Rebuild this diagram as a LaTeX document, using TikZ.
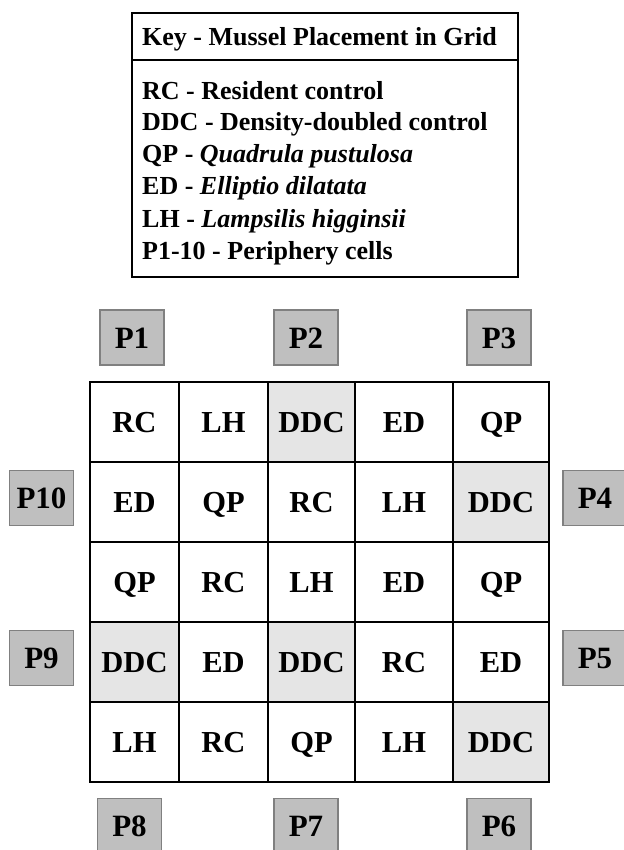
\documentclass[tikz,border=0pt]{standalone}
\usepackage{fontspec}
\setmainfont{Liberation Serif}
\begin{document}
\begin{tikzpicture}[x=1pt,y=-1pt,
  cell/.style={draw=black,line width=2pt,anchor=north west,inner sep=0pt,
    text height=20pt,text depth=0pt,
    font=\fontsize{30.5}{34}\selectfont\bfseries},
  ddc/.style={cell,fill=black!10},
  pbox/.style={draw=black!50,line width=1.3pt,fill=black!25,minimum width=64pt,
    minimum height=55pt,inner sep=0pt,text height=21pt,text depth=0pt,
    font=\fontsize{31}{34}\selectfont\bfseries},
  keytxt/.style={anchor=base west,inner sep=0pt,font=\fontsize{26}{30}\selectfont\bfseries}
]
\useasboundingbox (0,0) rectangle (623,850);
% key
\node[draw=black,line width=2pt,anchor=north west,minimum width=386pt,minimum height=264pt,inner sep=0pt] (key) at (131,12) {};
\coordinate (hl) at (131,60);
\coordinate (hr) at (517,60);
\draw[line width=2pt] (hl) -- (hr);
\node[keytxt] (k0) at (142,46) {Key - Mussel Placement in Grid};
\node[keytxt] (k1) at (142,100) {RC - Resident control};
\node[keytxt] (k2) at (142,131) {DDC - Density-doubled control};
\node[keytxt] (k3) at (142,163) {QP - \textit{Quadrula pustulosa}};
\node[keytxt] (k4) at (142,195) {ED - \textit{Elliptio dilatata}};
\node[keytxt] (k5) at (142,227) {LH - \textit{Lampsilis higginsii}};
\node[keytxt] (k6) at (142,259) {P1-10 - Periphery cells};
% grid
\def\cx{{89,178,267,354,452,548}}
\foreach \r/\row in {0/{RC,LH,DDC,ED,QP},1/{ED,QP,RC,LH,DDC},2/{QP,RC,LH,ED,QP},3/{DDC,ED,DDC,RC,ED},4/{LH,RC,QP,LH,DDC}}{
  \foreach \t [count=\c from 0] in \row {
    \pgfmathsetmacro{\xa}{\cx[\c]}
    \pgfmathsetmacro{\xb}{\cx[\c+1]}
    \pgfmathsetmacro{\w}{\xb-\xa}
    \pgfmathsetmacro{\ya}{381+80*\r}
    \def\tmp{DDC}
    \ifx\t\tmp
      \node[ddc,minimum width=\w pt,minimum height=80pt] (g\r\c) at (\xa,\ya) {\t};
    \else
      \node[cell,minimum width=\w pt,minimum height=80pt] (g\r\c) at (\xa,\ya) {\t};
    \fi
  }
}
% periphery
\node[pbox] (p1) at (132,337.5) {P1};
\node[pbox] (p2) at (306,337.5) {P2};
\node[pbox] (p3) at (499,337.5) {P3};
\node[pbox] (p10) at (41.5,498) {P10};
\node[pbox] (p4) at (595,498) {P4};
\node[pbox] (p9) at (41.5,658) {P9};
\node[pbox] (p5) at (595,658) {P5};
\node[pbox] (p8) at (129.5,826) {P8};
\node[pbox] (p7) at (306,826) {P7};
\node[pbox] (p6) at (499,826) {P6};
\end{tikzpicture}
\end{document}
